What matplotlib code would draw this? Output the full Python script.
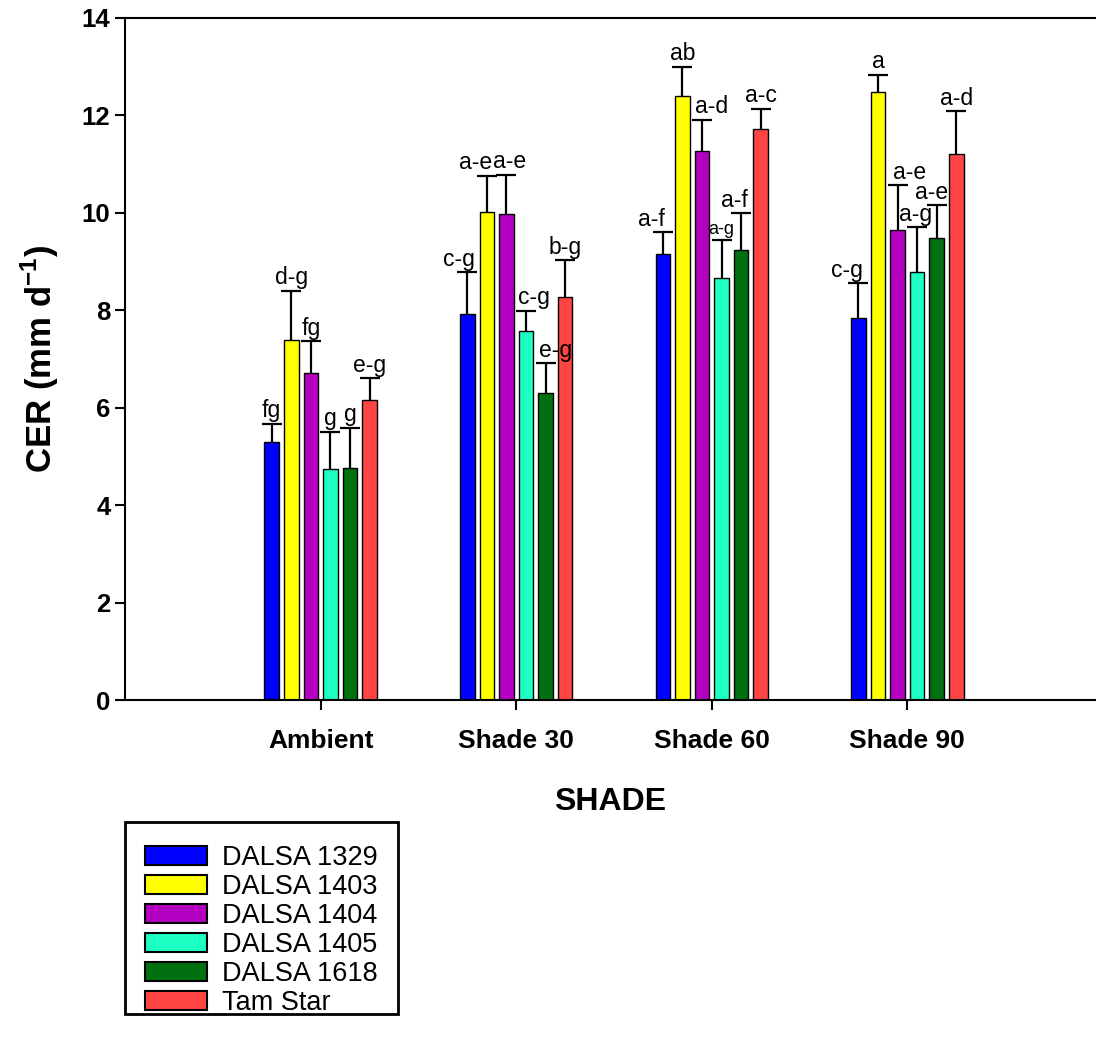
import matplotlib.pyplot as plt
from matplotlib.patches import Rectangle
import numpy as np

plt.rcParams['font.family'] = ['Liberation Sans', 'DejaVu Sans']
plt.rcParams['mathtext.fontset'] = 'custom'
plt.rcParams['mathtext.rm'] = 'Liberation Sans'
plt.rcParams['mathtext.bf'] = 'Liberation Sans:bold'

shades = ["Ambient", "Shade 30", "Shade 60", "Shade 90"]
cultivars = ["DALSA 1329", "DALSA 1403", "DALSA 1404", "DALSA 1405", "DALSA 1618", "Tam Star"]
colors = ["#0000ff", "#ffff00", "#b400c0", "#1effc4", "#007010", "#ff4444"]

# CER means per cultivar (rows) across shade levels (columns)
cer = [
    [5.30, 7.92, 9.15, 7.85],
    [7.40, 10.02, 12.39, 12.49],
    [6.72, 9.98, 11.26, 9.64],
    [4.74, 7.58, 8.66, 8.79],
    [4.77, 6.30, 9.23, 9.48],
    [6.16, 8.27, 11.72, 11.21],
]
# standard errors (upper bars only)
se = [
    [0.37, 0.86, 0.45, 0.70],
    [1.00, 0.74, 0.61, 0.35],
    [0.65, 0.80, 0.65, 0.93],
    [0.77, 0.41, 0.79, 0.91],
    [0.82, 0.61, 0.76, 0.68],
    [0.44, 0.76, 0.42, 0.88],
]
letters = [
    ["fg", "c-g", "a-f", "c-g"],
    ["d-g", "a-e", "ab", "a"],
    ["fg", "a-e", "a-d", "a-e"],
    ["g", "c-g", "a-g", "a-g"],
    ["g", "e-g", "a-f", "a-e"],
    ["e-g", "b-g", "a-c", "a-d"],
]

# sideways nudges (points) so crowded letter labels don't collide
label_dx = [
    [0, -6, -8, -8],
    [0, -8, 0, 0],
    [0, 2, 7, 9],
    [0, 6, 0, -1],
    [0, 7, -5, -4],
    [0, 0, 0, 0],
]

fig = plt.figure(figsize=(10.96, 10.4), dpi=100)
ax = fig.add_axes([0.1141, 0.3269, 0.8859, 0.6558])

x = np.arange(len(shades))
pitch = 0.1
width = 0.075
handles = []
for i, name in enumerate(cultivars):
    pos = x + (i - 2.5) * pitch
    b = ax.bar(pos, cer[i], width, color=colors[i], edgecolor="black",
               linewidth=1, label=name, zorder=2)
    handles.append(b)
    eb = ax.errorbar(pos, cer[i], yerr=[np.zeros(4), se[i]], fmt="none",
                     ecolor="black", elinewidth=1.6, capsize=7.5, capthick=1.6,
                     zorder=3)
    # keep only the upper caps
    for cap in eb[1]:
        if np.allclose(cap.get_ydata(), cer[i]):
            cap.set_visible(False)
    for j in range(4):
        top = cer[i][j] + se[i][j]
        fs = 13 if (i, j) == (3, 2) else 16.5
        ax.annotate(letters[i][j], (pos[j], top), xytext=(label_dx[i][j], 1),
                    textcoords="offset points", ha="center", va="bottom",
                    fontsize=fs, zorder=4)

ax.set_xlim(-1, 3.965)
ax.set_ylim(0, 14)
ax.set_yticks(range(0, 15, 2))
ax.set_xticks(x)
ax.set_xticklabels(shades, fontsize=19, fontweight="bold")
ax.tick_params(axis="y", labelsize=18.5, width=1.5, length=7, direction="out")
ax.tick_params(axis="x", width=1.5, length=7, direction="out", pad=14)
for t in ax.get_yticklabels():
    t.set_fontweight("bold")
ax.spines["right"].set_visible(False)
for s in ["left", "top", "bottom"]:
    ax.spines[s].set_linewidth(1.5)

ax.set_xlabel("SHADE", fontsize=23, fontweight="bold", labelpad=24)
ax.set_ylabel(r"CER (mm d$^{\mathbf{-1}}$)", fontsize=25, fontweight="bold",
              labelpad=15)

# legend entries, with a separate frame box around them
leg = fig.legend(handles=handles, labels=cultivars, loc="upper left",
                 bbox_to_anchor=(145 / 1096, 1 - 845 / 1040), fontsize=19.5,
                 frameon=False, handlelength=2.3, handleheight=0.75,
                 handletextpad=0.55, labelspacing=0.11, borderpad=0,
                 borderaxespad=0)
for h in leg.legend_handles:
    h.set_edgecolor("black")
    h.set_linewidth(1.5)
fig.patches.append(Rectangle((125 / 1096, 1 - 1014 / 1040), 273 / 1096,
                             192 / 1040, transform=fig.transFigure,
                             facecolor="none", edgecolor="black", linewidth=2))

fig.savefig("out.png", dpi=100)
